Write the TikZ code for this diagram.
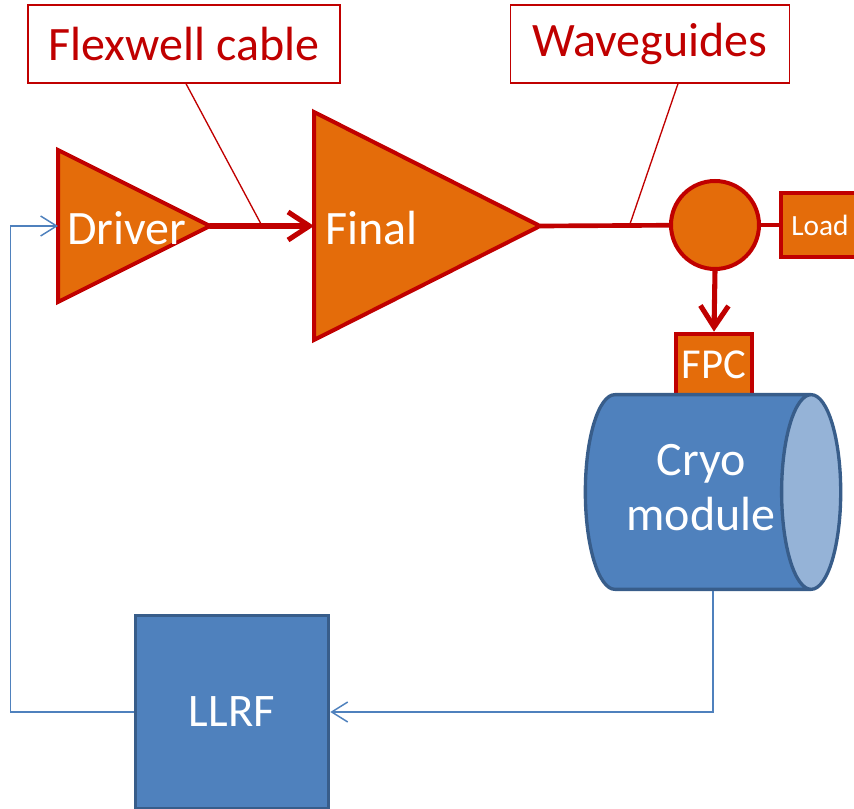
\documentclass[tikz,border=0pt]{standalone}
\usepackage{fontspec}
\setmainfont{Carlito}
\usetikzlibrary{arrows.meta,shapes.geometric}
\definecolor{ampfill}{HTML}{E46C0A}
\definecolor{ampline}{HTML}{C00000}
\definecolor{cmfill}{HTML}{4F81BD}
\definecolor{cmline}{HTML}{385D8A}
\definecolor{cmend}{HTML}{95B3D7}
\tikzset{
  callout/.style={draw=ampline, line width=1pt, fill=white, text=ampline,
    font=\fontsize{36}{40}\selectfont, minimum height=58.5pt},
  amp/.style={draw=ampline, line width=3pt, fill=ampfill, line join=miter},
  amptext/.style={text=white, font=\fontsize{36}{40}\selectfont, anchor=west, inner sep=0pt},
  ampbox/.style={draw=ampline, line width=3pt, fill=ampfill, text=white, inner sep=0pt},
  ctrl/.style={draw=cmline, line width=2.5pt, fill=cmfill, text=white,
    font=\fontsize{35}{41}\selectfont, align=center},
  rfarr/.style={draw=ampline, line width=3.8pt, line cap=round,
    -{Straight Barb[length=16pt, width=21pt, line width=3.8pt]}},
  rfline/.style={draw=ampline, line width=3.5pt},
  leader/.style={draw=ampline, line width=1pt},
  sig/.style={draw=cmfill, line width=1.1pt,
    -{Straight Barb[length=12pt, width=15pt, line width=1.1pt]}}
}
\begin{document}
\begin{tikzpicture}[x=0.75pt, y=-0.75pt]
\useasboundingbox (0,0) rectangle (854,809);

% Amplifier chain
\draw[amp] (58,150) -- (210,226) -- (58,302) -- cycle;
\coordinate (drvin) at (58,226);
\coordinate (drvout) at (210,226);
\node[amptext] (driver) at (67,228) {Driver};

\draw[amp] (314,112) -- (540,226) -- (314,340) -- cycle;
\coordinate (finin) at (314,226);
\coordinate (finout) at (540,226);
\node[amptext] (final) at (325,228) {Final};

\node[ampbox, circle, minimum size=66pt] (circ) at (715,225) {};
\node[ampbox, minimum width=58.5pt, minimum height=48pt,
  font=\fontsize{22}{26}\selectfont] (load) at (820,225) {Load};
\node[ampbox, minimum width=57pt, minimum height=47pt,
  font=\fontsize{32}{36}\selectfont] (fpc) at (714,365) {FPC};

% Cryomodule and LLRF
\node[ctrl, shape=cylinder, aspect=0.5, minimum width=146pt, minimum height=176pt,
  fill=none, cylinder uses custom fill, cylinder body fill=cmfill, cylinder end fill=cmend,
  font=\fontsize{36}{41}\selectfont]
  (cryo) at (693,492) {\begin{tabular}{@{\hspace{12pt}}c@{}}Cryo\\module\end{tabular}};
\node[ctrl, minimum size=145pt] (llrf) at (232,712) {LLRF};

% RF path
\draw[rfarr] (drvout) -- (finin);
\draw[rfline] (finout) -- (circ);
\draw[rfline] (circ) -- (load);
\draw[rfarr] (circ.south) -- (fpc.north);

% Callouts
\node[callout, minimum width=234pt] (flex) at (184,44) {Flexwell cable};
\node[callout, minimum width=209pt] (wg) at (650,44) {Waveguides};
\coordinate (flexpt) at (261,224);
\coordinate (wgpt) at (630,224);
\draw[leader] (flex.south) ++(2,0) -- (flexpt);
\draw[leader] (wg.south) ++(28,0) -- (wgpt);

% Feedback loop
\draw[sig] (cryo.shape center |- cryo.south) |- (llrf.east);
\draw[sig] (llrf.west) -- ++(-123,0) |- (drvin);

\end{tikzpicture}
\end{document}
